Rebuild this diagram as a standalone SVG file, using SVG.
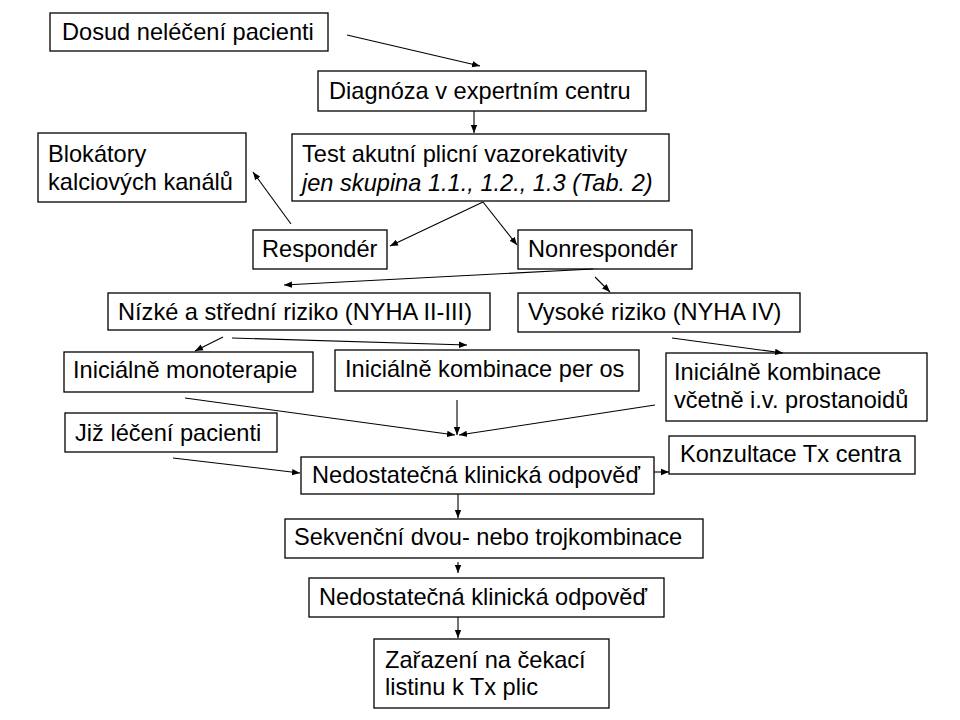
<svg xmlns="http://www.w3.org/2000/svg" width="960" height="720" viewBox="0 0 960 720">
<style>
rect.b{fill:#fff;stroke:#000;stroke-width:1.3}
text{font-family:"Liberation Sans",Arial,sans-serif;font-size:23.6px;fill:#000}
.it{font-style:italic}
#conn line{stroke:#000;stroke-width:1.1;marker-end:url(#ah)}
</style>
<defs>
<marker id="ah" viewBox="0 0 10 10" refX="10" refY="5" markerWidth="8" markerHeight="8" markerUnits="userSpaceOnUse" orient="auto">
<path d="M0,1 L10,5 L0,9 z" fill="#000"/>
</marker>
</defs>
<rect width="960" height="720" fill="#fff"/>
<g id="n1"><rect class="b" x="50" y="13" width="278" height="38"/><text x="62" y="40">Dosud neléčení pacienti</text></g>
<g id="n2"><rect class="b" x="318" y="71" width="328" height="40"/><text x="329" y="99">Diagnóza v expertním centru</text></g>
<g id="n3"><rect class="b" x="292" y="134" width="377" height="67"/><text x="302" y="162">Test akutní plicní vazorekativity</text><text x="302" y="191" class="it">jen skupina 1.1., 1.2., 1.3 (Tab. 2)</text></g>
<g id="n4"><rect class="b" x="38" y="133" width="208" height="69"/><text x="48" y="162">Blokátory</text><text x="48" y="190">kalciových kanálů</text></g>
<g id="n5"><rect class="b" x="253" y="230" width="134" height="39"/><text x="262" y="257">Respondér</text></g>
<g id="n6"><rect class="b" x="518" y="230" width="174" height="39"/><text x="528" y="257">Nonrespondér</text></g>
<g id="n7"><rect class="b" x="108" y="293" width="382" height="37"/><text x="118" y="320">Nízké a střední riziko (NYHA II-III)</text></g>
<g id="n8"><rect class="b" x="518" y="293" width="282" height="39"/><text x="528" y="320">Vysoké riziko (NYHA IV)</text></g>
<g id="n9"><rect class="b" x="64" y="352" width="249" height="40"/><text x="73" y="378">Iniciálně monoterapie</text></g>
<g id="n10"><rect class="b" x="335" y="350" width="304" height="41"/><text x="345" y="377">Iniciálně kombinace per os</text></g>
<g id="n11"><rect class="b" x="666" y="353" width="261" height="68"/><text x="674" y="380">Iniciálně kombinace</text><text x="674" y="408">včetně i.v. prostanoidů</text></g>
<g id="n12"><rect class="b" x="65" y="413" width="212" height="39"/><text x="75" y="441">Již léčení pacienti</text></g>
<g id="n13"><rect class="b" x="669" y="436" width="246" height="38"/><text x="680" y="462">Konzultace Tx centra</text></g>
<g id="n14"><rect class="b" x="301" y="457" width="353" height="37"/><text x="312" y="483">Nedostatečná klinická odpověď</text></g>
<g id="n15"><rect class="b" x="285" y="519" width="418" height="39"/><text x="294" y="545">Sekvenční dvou- nebo trojkombinace</text></g>
<g id="n16"><rect class="b" x="309" y="578" width="355" height="39"/><text x="319" y="605">Nedostatečná klinická odpověď</text></g>
<g id="n17"><rect class="b" x="374" y="639" width="235" height="69"/><text x="385" y="668">Zařazení na čekací</text><text x="385" y="695">listinu k Tx plic</text></g>
<g id="conn">
<line x1="347" y1="35" x2="480" y2="66"/>
<line x1="474" y1="111" x2="474" y2="133"/>
<line x1="483" y1="202" x2="390" y2="246"/>
<line x1="483" y1="202" x2="517" y2="245"/>
<line x1="291" y1="224" x2="253" y2="172"/>
<line x1="593" y1="269" x2="284" y2="285"/>
<line x1="595" y1="277" x2="610" y2="292"/>
<line x1="223" y1="337" x2="195" y2="351"/>
<line x1="232" y1="338" x2="467" y2="345"/>
<line x1="672" y1="338" x2="783" y2="353"/>
<line x1="185" y1="398" x2="455" y2="435"/>
<line x1="457" y1="400" x2="457" y2="435"/>
<line x1="655" y1="405" x2="459" y2="435"/>
<line x1="173" y1="458" x2="300" y2="473"/>
<line x1="654" y1="472" x2="669" y2="472"/>
<line x1="458" y1="494" x2="458" y2="518"/>
<line x1="458" y1="562" x2="458" y2="573"/>
<line x1="458" y1="617" x2="458" y2="638"/>
</g>
</svg>
